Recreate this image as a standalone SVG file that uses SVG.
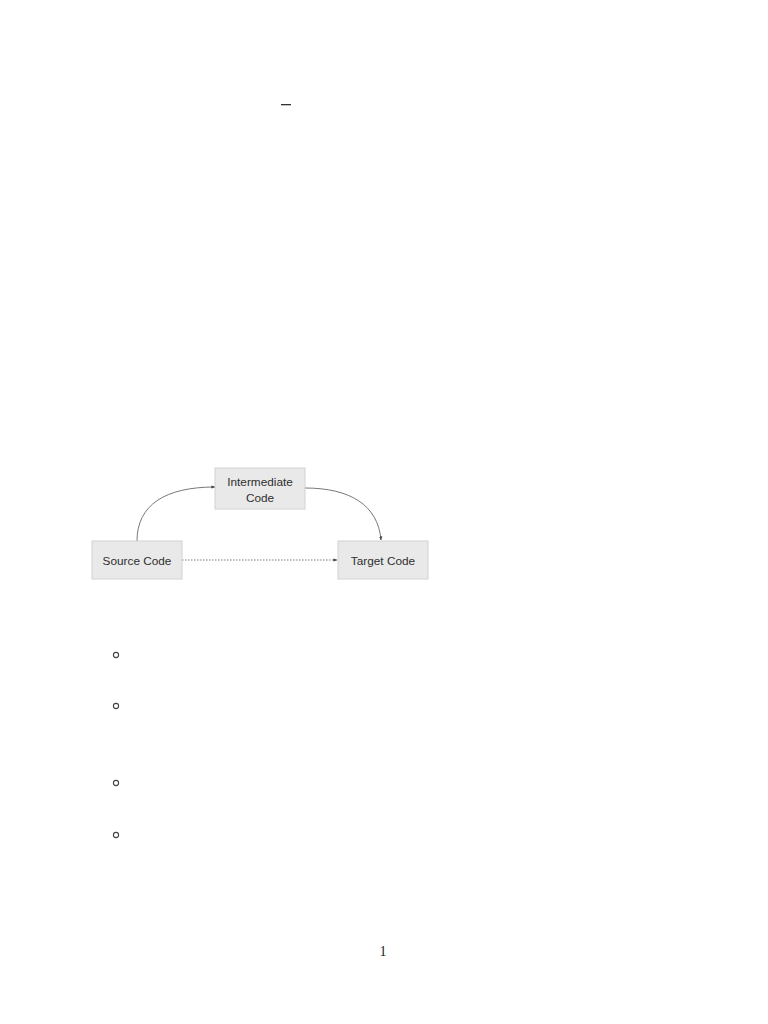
<svg xmlns="http://www.w3.org/2000/svg" width="768" height="1024" viewBox="0 0 768 1024">
<style>
.box{fill:#e9e9e9;stroke:#d2d2d2;stroke-width:1}
.lbl{font-family:"Liberation Sans",Arial,sans-serif;font-size:11.8px;fill:#2e2e2e;text-anchor:middle}
.con{fill:none;stroke:#555;stroke-width:0.8}
.bul{fill:none;stroke:#444;stroke-width:1.1}
</style>
<defs>
<marker id="ah" viewBox="0 0 10 10" refX="9" refY="5" markerWidth="5" markerHeight="5" orient="auto">
<path d="M0,1 L10,5 L0,9 z" fill="#444"/>
</marker>
</defs>
<rect x="0" y="0" width="768" height="1024" fill="#ffffff"/>
<rect x="281" y="104" width="10" height="1.3" fill="#333"/>
<g id="connectors">
<path class="con" d="M137,541 C137,505 165,487 215,487" marker-end="url(#ah)"/>
<path class="con" d="M305,488 C350,488 378,505 381,540" marker-end="url(#ah)"/>
<path class="con" d="M182,560 L337,560" stroke-dasharray="1.5,1.5" marker-end="url(#ah)"/>
</g>
<g id="source">
<rect class="box" x="92" y="541" width="90" height="38"/>
<text class="lbl" x="137" y="565">Source Code</text>
</g>
<g id="intermediate">
<rect class="box" x="215" y="468" width="90" height="41"/>
<text class="lbl" x="260" y="486">Intermediate</text>
<text class="lbl" x="260" y="502">Code</text>
</g>
<g id="target">
<rect class="box" x="338" y="541" width="90" height="38"/>
<text class="lbl" x="383" y="565">Target Code</text>
</g>
<g id="bullets">
<circle class="bul" cx="116" cy="655" r="2.6"/>
<circle class="bul" cx="116" cy="706" r="2.6"/>
<circle class="bul" cx="116" cy="783" r="2.6"/>
<circle class="bul" cx="116" cy="835" r="2.6"/>
</g>
<text x="383" y="956" font-family="Liberation Serif,'Times New Roman',serif" font-size="14" fill="#222" text-anchor="middle">1</text>
</svg>
